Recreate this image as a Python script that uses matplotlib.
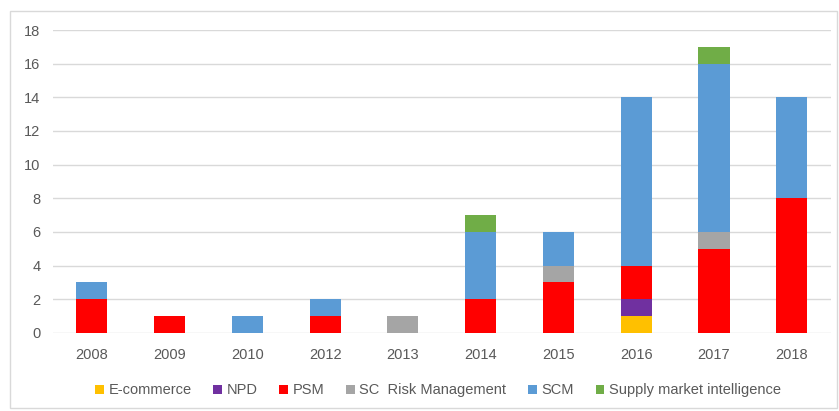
import matplotlib
matplotlib.use('Agg')
from matplotlib import pyplot as plt
from matplotlib.patches import Rectangle
import numpy as np

years = ['2008', '2009', '2010', '2012', '2013', '2014', '2015', '2016', '2017', '2018']
ecommerce = [0, 0, 0, 0, 0, 0, 0, 1, 0, 0]
npd = [0, 0, 0, 0, 0, 0, 0, 1, 0, 0]
psm = [2, 1, 0, 1, 0, 2, 3, 2, 5, 8]
sc_risk = [0, 0, 0, 0, 1, 0, 1, 0, 1, 0]
scm = [1, 0, 1, 1, 0, 4, 2, 10, 10, 6]
smi = [0, 0, 0, 0, 0, 1, 0, 0, 1, 0]

series = [
    ('E-commerce', ecommerce, '#FFC000'),
    ('NPD', npd, '#7030A0'),
    ('PSM', psm, '#FF0000'),
    ('SC  Risk Management', sc_risk, '#A5A5A5'),
    ('SCM', scm, '#5B9BD5'),
    ('Supply market intelligence', smi, '#70AD47'),
]

plt.rcParams['font.family'] = ['Liberation Sans', 'DejaVu Sans']
txt = '#595959'

fig = plt.figure(figsize=(8.39, 4.11), dpi=100)
ax = fig.add_axes([0.063, 0.19, 0.927, 0.737])

x = np.arange(len(years))
bottom = np.zeros(len(years))
for name, vals, col in series:
    vals = np.array(vals, dtype=float)
    ax.bar(x, vals, 0.4, bottom=bottom, color=col, label=name, zorder=3)
    bottom += vals

ax.set_xlim(-0.5, len(years) - 0.5)
ax.set_ylim(0, 18)
ax.set_yticks(range(0, 19, 2))
ax.set_xticks(x)
ax.set_xticklabels(years)
ax.grid(axis='y', color='#D9D9D9', linewidth=1, zorder=0)
for s in ax.spines.values():
    s.set_visible(False)
ax.tick_params(length=0, colors=txt, labelsize=10.5)
ax.tick_params(axis='x', pad=11)
ax.tick_params(axis='y', pad=9)

leg = fig.legend(loc='center', bbox_to_anchor=(0.522, 0.05), ncol=6, frameon=False,
                 fontsize=10.5, handlelength=0.6, handleheight=0.6, handletextpad=0.3,
                 columnspacing=1.5)
for t in leg.get_texts():
    t.set_color(txt)

# outer chart frame
fig.patches.append(Rectangle((10 / 839, 3 / 411), 827 / 839, 397 / 411, transform=fig.transFigure,
                             fill=False, edgecolor='#D9D9D9', linewidth=1))

fig.savefig('out.png', dpi=100)
